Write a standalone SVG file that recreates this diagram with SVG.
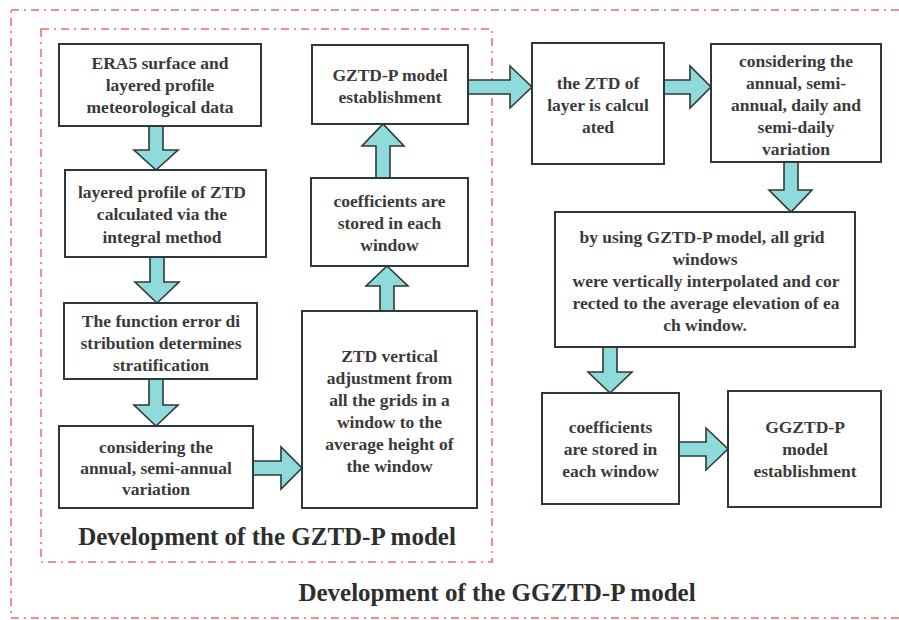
<svg xmlns="http://www.w3.org/2000/svg" width="899" height="620" viewBox="0 0 899 620">
<style>
.bg{fill:#ffffff}
.frame{fill:none;stroke:#ec8f8f;stroke-width:2;stroke-dasharray:8 5 2 5}
.box{fill:#ffffff;stroke:#2f3838;stroke-width:2}
.t{font-family:"Liberation Serif","Times New Roman",serif;font-weight:bold;font-size:17.5px;fill:#3a3a3a;text-anchor:middle}
.title{font-family:"Liberation Serif","Times New Roman",serif;font-weight:bold;font-size:25px;fill:#2e2e2e;text-anchor:middle}
.arr{fill:#8fdada;stroke:#2f3838;stroke-width:1.6;stroke-linejoin:miter}
</style>
<rect class="bg" x="0" y="0" width="899" height="620"/>
<g id="frames">
<rect class="frame" x="11" y="10" width="900" height="608"/>
<rect class="frame" x="41" y="29" width="451" height="533"/>
</g>
<g id="connectors">
<polygon class="arr" points="149,125 163,125 163,150 178,150 156,170 134,150 149,150"/>
<polygon class="arr" points="150,257 164,257 164,282 179,282 157,303 135,282 150,282"/>
<polygon class="arr" points="149,379 163,379 163,405 178,405 156,426 134,405 149,405"/>
<polygon class="arr" points="253,461 281,461 281,447 302,468 281,489 281,475 253,475"/>
<polygon class="arr" points="380,311 394,311 394,286 408,286 387,266 366,286 380,286"/>
<polygon class="arr" points="376,178 390,178 390,146 404,146 383,124 362,146 376,146"/>
<polygon class="arr" points="468,80 510,80 510,66 532,87 510,108 510,94 468,94"/>
<polygon class="arr" points="664,80 690,80 690,66 711,87 690,108 690,94 664,94"/>
<polygon class="arr" points="784,162 798,162 798,190 812,190 791,212 769,190 784,190"/>
<polygon class="arr" points="603,347 617,347 617,372 632,372 610,393 588,372 603,372"/>
<polygon class="arr" points="679,442 706,442 706,428 728,449 706,470 706,456 679,456"/>
</g>
<g id="n1">
<rect class="box" x="59" y="44" width="202" height="82"/>
<text class="t" x="160" y="69">ERA5 surface and</text>
<text class="t" x="160" y="91">layered profile</text>
<text class="t" x="160" y="113">meteorological data</text>
</g>
<g id="n2">
<rect class="box" x="65" y="170" width="201" height="87"/>
<text class="t" x="162" y="198">layered profile of ZTD</text>
<text class="t" x="162" y="220">calculated via the</text>
<text class="t" x="162" y="243">integral method</text>
</g>
<g id="n3">
<rect class="box" x="64" y="303" width="193" height="76"/>
<text class="t" x="161" y="327">The function error di</text>
<text class="t" x="161" y="349">stribution determines</text>
<text class="t" x="161" y="371">stratification</text>
</g>
<g id="n4">
<rect class="box" x="59" y="426" width="194" height="82"/>
<text class="t" x="156" y="453">considering the</text>
<text class="t" x="156" y="474">annual, semi-annual</text>
<text class="t" x="156" y="495">variation</text>
</g>
<g id="n5">
<rect class="box" x="302" y="311" width="175" height="197"/>
<text class="t" x="389.5" y="362">ZTD vertical</text>
<text class="t" x="389.5" y="384">adjustment from</text>
<text class="t" x="389.5" y="406">all the grids in a</text>
<text class="t" x="389.5" y="428">window to the</text>
<text class="t" x="389.5" y="450">average height of</text>
<text class="t" x="389.5" y="472">the window</text>
</g>
<g id="n6">
<rect class="box" x="311" y="178" width="157" height="88"/>
<text class="t" x="389.5" y="207">coefficients are</text>
<text class="t" x="389.5" y="229">stored in each</text>
<text class="t" x="389.5" y="251">window</text>
</g>
<g id="n7">
<rect class="box" x="312" y="45" width="156" height="79"/>
<text class="t" x="390" y="81">GZTD-P model</text>
<text class="t" x="390" y="103">establishment</text>
</g>
<g id="n8">
<rect class="box" x="532" y="43" width="132" height="121"/>
<text class="t" x="598" y="89">the ZTD of</text>
<text class="t" x="598" y="111">layer is calcul</text>
<text class="t" x="598" y="133">ated</text>
</g>
<g id="n9">
<rect class="box" x="711" y="44" width="170" height="118"/>
<text class="t" x="796" y="67">considering the</text>
<text class="t" x="796" y="89">annual, semi-</text>
<text class="t" x="796" y="111">annual, daily and</text>
<text class="t" x="796" y="133">semi-daily</text>
<text class="t" x="796" y="155">variation</text>
</g>
<g id="n10">
<rect class="box" x="555" y="212" width="300" height="135"/>
<text class="t" x="702" y="243">by using GZTD-P model, all grid</text>
<text class="t" x="705" y="265">windows</text>
<text class="t" x="706" y="287">were vertically interpolated and cor</text>
<text class="t" x="706" y="309">rected to the average elevation of ea</text>
<text class="t" x="705" y="331">ch window.</text>
</g>
<g id="n11">
<rect class="box" x="542" y="393" width="137" height="111"/>
<text class="t" x="610.5" y="433">coefficients</text>
<text class="t" x="610.5" y="455">are stored in</text>
<text class="t" x="610.5" y="477">each window</text>
</g>
<g id="n12">
<rect class="box" x="728" y="391" width="153" height="116"/>
<text class="t" x="805" y="433">GGZTD-P</text>
<text class="t" x="805" y="455">model</text>
<text class="t" x="805" y="477">establishment</text>
</g>
<g id="titles">
<text class="title" x="267" y="545">Development of the GZTD-P model</text>
<text class="title" x="497" y="601">Development of the GGZTD-P model</text>
</g>
</svg>
